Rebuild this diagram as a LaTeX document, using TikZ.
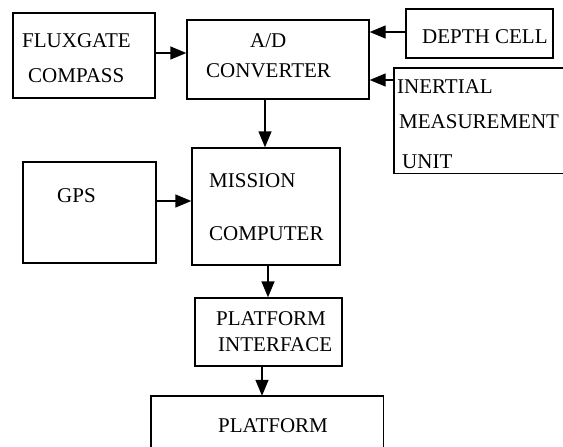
\documentclass[tikz,border=0pt]{standalone}
\usepackage{fontspec}
\setmainfont{Liberation Serif}
\usetikzlibrary{arrows.meta,calc}
\tikzset{
  box/.style={draw, line width=1.4pt, inner sep=0pt, rectangle},
  openbox/.style={inner sep=0pt, rectangle},
  lbl/.style={anchor=base west, inner sep=0pt, font=\fontsize{21}{21}\selectfont},
  arr/.style={line width=1.4pt, -{Triangle[length=16pt,width=13pt]}},
  edge/.style={line width=1.4pt}
}
\begin{document}
\begin{tikzpicture}[x=1pt,y=-1pt]
\useasboundingbox (0,0) rectangle (563,447);
% boxes
\node[box, minimum width=142pt, minimum height=85pt] (flux) at (84,55.5) {};
\node[box, minimum width=182pt, minimum height=79pt] (ad) at (278,59.5) {};
\node[box, minimum width=147pt, minimum height=49pt] (depth) at (479.5,33.5) {};
\node[openbox, minimum width=169pt, minimum height=105pt] (imu) at (478.5,120.5) {};
\draw[edge] (imu.north east) -- (imu.north west) -- (imu.south west) -- (imu.south east);
\node[box, minimum width=133pt, minimum height=101pt] (gps) at (89.5,212.5) {};
\node[box, minimum width=148pt, minimum height=117pt] (mc) at (266,206.5) {};
\node[box, minimum width=147pt, minimum height=68pt] (pi) at (268.5,332) {};
\node[openbox, minimum width=232pt, minimum height=52pt] (plat) at (267,422) {};
\draw[edge] (plat.south west) -- (plat.north west) -- (plat.north east) -- (plat.south east);
% labels
\node[lbl] (t1) at (22,47) {FLUXGATE};
\node[lbl] (t2) at (28,82) {COMPASS};
\node[lbl] (t3) at (250,47) {A/D};
\node[lbl] (t4) at (206,77) {CONVERTER};
\node[lbl] (t5) at (422,43) {DEPTH CELL};
\node[lbl] (t6) at (397,93) {INERTIAL};
\node[lbl] (t7) at (399,128) {MEASUREMENT};
\node[lbl] (t8) at (402,168) {UNIT};
\node[lbl] (t9) at (57,202) {GPS};
\node[lbl] (t10) at (209,187) {MISSION};
\node[lbl] (t11) at (209,240) {COMPUTER};
\node[lbl] (t12) at (216,325) {PLATFORM};
\node[lbl] (t13) at (218,351) {INTERFACE};
\node[lbl] (t14) at (218,432) {PLATFORM};
% connectors
\draw[arr] (flux.east |- 0,53) -- (ad.west |- 0,53);
\draw[arr] (depth.west |- 0,32) -- (ad.east |- 0,32);
\draw[arr] (imu.west |- 0,80) -- (ad.east |- 0,80);
\draw[arr] (ad.south -| 265,0) -- (mc.north -| 265,0);
\draw[arr] (gps.east |- 0,201) -- (mc.west |- 0,201);
\draw[arr] (mc.south -| 268,0) -- (pi.north -| 268,0);
\draw[arr] (pi.south -| 262,0) -- (plat.north -| 262,0);
\end{tikzpicture}
\end{document}
